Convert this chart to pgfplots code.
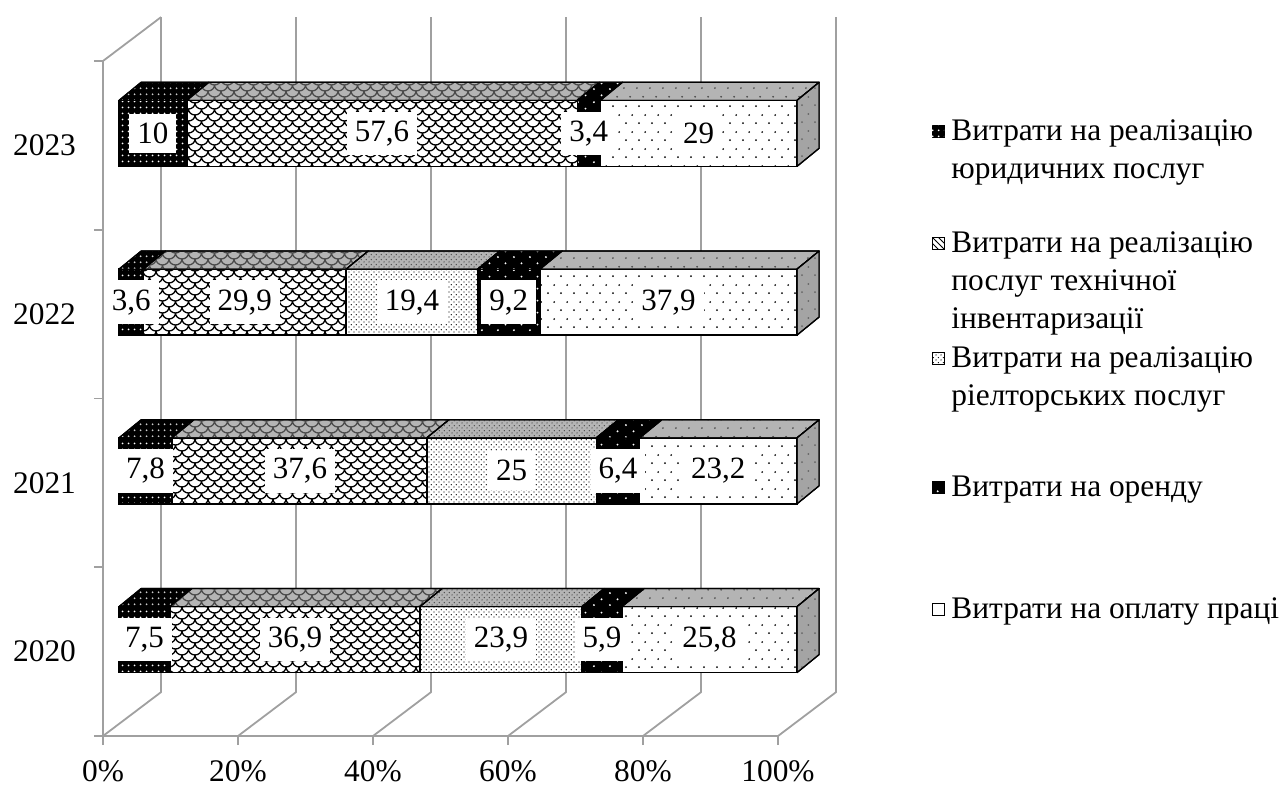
\documentclass[border=0pt]{standalone}
\usepackage{pgfplots}
\pgfplotsset{compat=1.18}
\usepackage{fontspec}
\setmainfont{Liberation Serif}
\usetikzlibrary{patterns}

\definecolor{gridgray}{HTML}{A0A0A0}
\definecolor{topgray}{HTML}{B4B4B4}
\definecolor{sidegray}{HTML}{A4A4A4}

% ---- fill patterns -------------------------------------------------
\pgfdeclarepatternformonly{labdots}{\pgfqpoint{0pt}{0pt}}{\pgfqpoint{6.35pt}{8.5pt}}{\pgfqpoint{6.35pt}{8.5pt}}{%
  \pgfpathcircle{\pgfqpoint{1pt}{1pt}}{0.5pt}%
  \pgfpathcircle{\pgfqpoint{4.175pt}{5.25pt}}{0.5pt}%
  \pgfusepath{fill}}
\pgfdeclarepatternformonly{finedots}{\pgfqpoint{0pt}{0pt}}{\pgfqpoint{2.6pt}{2.6pt}}{\pgfqpoint{2.6pt}{2.6pt}}{%
  \pgfpathcircle{\pgfqpoint{0.6pt}{0.6pt}}{0.38pt}%
  \pgfpathcircle{\pgfqpoint{1.9pt}{1.9pt}}{0.38pt}%
  \pgfusepath{fill}}
\pgfdeclarepatternformonly{legdots}{\pgfqpoint{0pt}{0pt}}{\pgfqpoint{3pt}{3pt}}{\pgfqpoint{3pt}{3pt}}{%
  \pgfpathcircle{\pgfqpoint{1.5pt}{1.5pt}}{0.55pt}%
  \pgfusepath{fill}}
\pgfdeclarepatternformonly{rentdots}{\pgfqpoint{0pt}{0pt}}{\pgfqpoint{8pt}{6pt}}{\pgfqpoint{8pt}{6pt}}{%
  \pgfpathcircle{\pgfqpoint{1pt}{1pt}}{0.55pt}%
  \pgfpathcircle{\pgfqpoint{5pt}{4pt}}{0.55pt}%
  \pgfusepath{fill}}
\pgfdeclarepatternformonly{scales}{\pgfqpoint{-0.5pt}{-0.5pt}}{\pgfqpoint{7pt}{6.5pt}}{\pgfqpoint{6.5pt}{6pt}}{%
  \pgfsetlinewidth{0.65pt}%
  \pgfpathmoveto{\pgfqpoint{0pt}{6pt}}%
  \pgfpatharc{180}{360}{3.25pt and 3pt}%
  \pgfpathmoveto{\pgfqpoint{0pt}{0pt}}%
  \pgfpatharc{270}{360}{3.25pt and 3pt}%
  \pgfpathmoveto{\pgfqpoint{3.25pt}{3pt}}%
  \pgfpatharc{180}{270}{3.25pt and 3pt}%
  \pgfusepath{stroke}}

\tikzset{
  front/.style={draw=black, line width=0.75pt},
  legalF/.style={front, fill=black, postaction={pattern=legdots, pattern color=white}},
  techF/.style={front, fill=white, postaction={pattern=scales, pattern color=black}},
  realF/.style={front, fill=white, postaction={pattern=finedots, pattern color=black}},
  rentF/.style={front, fill=black, postaction={pattern=rentdots, pattern color=white}},
  laborF/.style={front, fill=white, postaction={pattern=labdots, pattern color=black}},
  face/.style={draw=black, line width=0.6pt, line join=round, mark=none},
  legalT/.style={face, fill=black, postaction={pattern=legdots, pattern color=white!80!black}},
  techT/.style={face, fill=topgray, postaction={pattern=scales, pattern color=black!70}},
  realT/.style={face, fill=topgray, postaction={pattern=finedots, pattern color=black!70}},
  rentT/.style={face, fill=black, postaction={pattern=rentdots, pattern color=white}},
  laborT/.style={face, fill=topgray, postaction={pattern=labdots, pattern color=black!70}},
  laborS/.style={face, fill=sidegray, postaction={pattern=labdots, pattern color=black!60}},
  lbl/.style={fill=white, inner xsep=4pt, inner ysep=4.5pt, font=\fontsize{15.5}{18}\selectfont},
  grid3d/.style={draw=gridgray, line width=0.9pt},
  key/.style={line width=0.5pt},
}

% bar depth (axis units) and half bar height
\def\bdx{3.26}
\def\bdy{0.107}
\def\bhw{0.1956}

% top face of a stacked segment from #1 to #2 on category #3
\newcommand\topface[4]{%
  \pgfmathsetmacro\xA{#1}%
  \pgfmathsetmacro\xB{#2}%
  \pgfmathsetmacro\xC{#2+\bdx}%
  \pgfmathsetmacro\xD{#1+\bdx}%
  \pgfmathsetmacro\yA{#3+\bhw}%
  \pgfmathsetmacro\yB{#3+\bhw+\bdy}%
  \edef\facecmd{\noexpand\addplot[\unexpanded{#4}] coordinates {(\xA,\yA) (\xB,\yA) (\xC,\yB) (\xD,\yB) (\xA,\yA)};}%
  \facecmd}
% right end face of the bar on category #1
\newcommand\sideface[2]{%
  \pgfmathsetmacro\xA{100}%
  \pgfmathsetmacro\xC{100+\bdx}%
  \pgfmathsetmacro\yA{#1-\bhw}%
  \pgfmathsetmacro\yB{#1+\bhw}%
  \pgfmathsetmacro\yC{#1+\bhw+\bdy}%
  \pgfmathsetmacro\yD{#1-\bhw+\bdy}%
  \edef\facecmd{\noexpand\addplot[\unexpanded{#2}] coordinates {(\xA,\yA) (\xA,\yB) (\xC,\yC) (\xC,\yD) (\xA,\yA)};}%
  \facecmd}

\begin{document}
\begin{tikzpicture}[font=\fontsize{15.5}{19}\selectfont]
\useasboundingbox (0,0) rectangle (642pt,-393.5pt);

% ---- walls, floor and axes ----
\begin{axis}[
  at={(51.5pt,-368pt)}, anchor=south west,
  scale only axis, width=337.5pt, height=337.5pt,
  xmin=0, xmax=100, ymin=0, ymax=4,
  axis lines=left,
  axis line style={draw=gridgray, line width=0.9pt, -},
  xtick={0,20,40,60,80,100},
  xticklabels={0\%,20\%,40\%,60\%,80\%,100\%},
  ytick={0,1,2,3,4}, yticklabels={},
  extra y ticks={0.5,1.5,2.5,3.5},
  extra y tick labels={2020,2021,2022,2023},
  extra y tick style={tick style={draw=none}},
  tick align=outside,
  major tick length=4.5pt,
  tick style={draw=gridgray, line width=0.9pt},
  tick label style={font=\fontsize{15.7}{18}\selectfont},
  xticklabel style={inner sep=0pt, yshift=-7.5pt},
  yticklabel style={xshift=-5.5pt},
  clip=false,
]
\draw[grid3d] (axis cs:0,4) -- (axis cs:8.6,4.26);
\draw[grid3d] (axis cs:0,0) -- (axis cs:8.6,0.26) -- (axis cs:8.6,4.26);
\draw[grid3d] (axis cs:20,0) -- (axis cs:28.6,0.26) -- (axis cs:28.6,4.26);
\draw[grid3d] (axis cs:40,0) -- (axis cs:48.6,0.26) -- (axis cs:48.6,4.26);
\draw[grid3d] (axis cs:60,0) -- (axis cs:68.6,0.26) -- (axis cs:68.6,4.26);
\draw[grid3d] (axis cs:80,0) -- (axis cs:88.6,0.26) -- (axis cs:88.6,4.26);
\draw[grid3d] (axis cs:100,0) -- (axis cs:108.6,0.26) -- (axis cs:108.6,4.26);
\end{axis}

% ---- front faces of the stacked bars ----
\begin{axis}[
  at={(59.5pt,-362pt)}, anchor=south west,
  scale only axis, width=339pt, height=337.5pt,
  xmin=0, xmax=100, ymin=0, ymax=4,
  hide axis, clip=false,
  xbar stacked, bar width=33pt,
]
\addplot[legalF] coordinates {(7.5,0.5) (7.8,1.5) (3.6,2.5) (10,3.5)};
\addplot[techF]  coordinates {(36.9,0.5) (37.6,1.5) (29.9,2.5) (57.6,3.5)};
\addplot[realF]  coordinates {(23.9,0.5) (25,1.5) (19.4,2.5) (0,3.5)};
\addplot[rentF]  coordinates {(5.9,0.5) (6.4,1.5) (9.2,2.5) (3.4,3.5)};
\addplot[laborF] coordinates {(25.8,0.5) (23.2,1.5) (37.9,2.5) (29,3.5)};
\end{axis}

% ---- top and end faces, value labels ----
\begin{axis}[
  at={(59.5pt,-362pt)}, anchor=south west,
  scale only axis, width=339pt, height=337.5pt,
  xmin=0, xmax=100, ymin=0, ymax=4,
  hide axis, clip=false,
]
% 2020
\topface{0}{7.5}{0.5}{legalT}
\topface{7.5}{44.4}{0.5}{techT}
\topface{44.4}{68.3}{0.5}{realT}
\topface{68.3}{74.2}{0.5}{rentT}
\topface{74.2}{100}{0.5}{laborT}
\sideface{0.5}{laborS}
% 2021
\topface{0}{7.8}{1.5}{legalT}
\topface{7.8}{45.4}{1.5}{techT}
\topface{45.4}{70.4}{1.5}{realT}
\topface{70.4}{76.8}{1.5}{rentT}
\topface{76.8}{100}{1.5}{laborT}
\sideface{1.5}{laborS}
% 2022
\topface{0}{3.6}{2.5}{legalT}
\topface{3.6}{33.5}{2.5}{techT}
\topface{33.5}{52.9}{2.5}{realT}
\topface{52.9}{62.1}{2.5}{rentT}
\topface{62.1}{100}{2.5}{laborT}
\sideface{2.5}{laborS}
% 2023
\topface{0}{10}{3.5}{legalT}
\topface{10}{67.6}{3.5}{techT}
\topface{67.6}{71}{3.5}{rentT}
\topface{71}{100}{3.5}{laborT}
\sideface{3.5}{laborS}

\node[lbl] at (axis cs:3.75,0.5) {7,5};
\node[lbl] at (axis cs:25.95,0.5) {36,9};
\node[lbl] at (axis cs:56.35,0.5) {23,9};
\node[lbl] at (axis cs:71.25,0.5) {5,9};
\node[lbl] at (axis cs:87.1,0.5) {25,8};
\node[lbl] at (axis cs:3.9,1.5) {7,8};
\node[lbl] at (axis cs:26.7,1.5) {37,6};
\node[lbl] at (axis cs:57.9,1.5) {25};
\node[lbl] at (axis cs:73.6,1.5) {6,4};
\node[lbl] at (axis cs:88.4,1.5) {23,2};
\node[lbl] at (axis cs:1.8,2.5) {3,6};
\node[lbl] at (axis cs:18.55,2.5) {29,9};
\node[lbl] at (axis cs:43.2,2.5) {19,4};
\node[lbl] at (axis cs:57.5,2.5) {9,2};
\node[lbl] at (axis cs:81.05,2.5) {37,9};
\node[lbl] at (axis cs:5,3.5) {10};
\node[lbl] at (axis cs:38.8,3.5) {57,6};
\node[lbl] at (axis cs:69.3,3.5) {3,4};
\node[lbl] at (axis cs:85.5,3.5) {29};
\end{axis}

% ---- legend ----
\begin{scope}[every node/.style={inner sep=0pt, anchor=base west}, font=\fontsize{15.7}{19}\selectfont]
\filldraw[legalF, key] (466pt,-68.5pt) rectangle +(6pt,6pt);
\node at (475.5pt,-70pt) {Витрати на реалізацію};
\node at (475.5pt,-89pt) {юридичних послуг};
\filldraw[draw=black, key, fill=white, postaction={pattern=north west lines}] (466pt,-124.5pt) rectangle +(6pt,6pt);
\node at (475.5pt,-126pt) {Витрати на реалізацію};
\node at (475.5pt,-145pt) {послуг технічної};
\node at (475.5pt,-164pt) {інвентаризації};
\filldraw[realF, key] (466pt,-182pt) rectangle +(6pt,6pt);
\node at (475.5pt,-183.5pt) {Витрати на реалізацію};
\node at (475.5pt,-202.5pt) {ріелторських послуг};
\filldraw[rentF, key] (466pt,-246.5pt) rectangle +(6pt,6pt);
\node at (475.5pt,-248pt) {Витрати на оренду};
\filldraw[draw=black, key, fill=white] (466pt,-307.5pt) rectangle +(6pt,6pt);
\node at (475.5pt,-309pt) {Витрати на оплату праці};
\end{scope}
\end{tikzpicture}
\end{document}
